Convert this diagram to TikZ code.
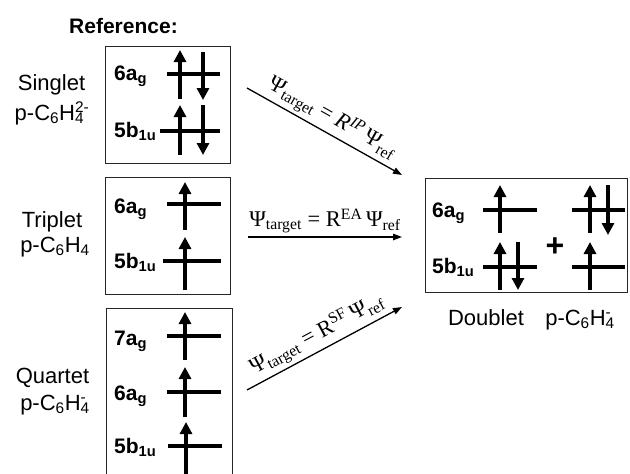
\documentclass[tikz,border=0pt]{standalone}
\usepackage{fontspec}
\setmainfont{Liberation Sans}
\newfontfamily\tms{Liberation Serif}
\usetikzlibrary{arrows.meta}
\newcommand\sbsp[2]{\setbox0\hbox{\textsubscript{#1}}\setbox2\hbox{\textsuperscript{#2}}\ifdim\wd0>\wd2 \rlap{\box2}\box0 \else\rlap{\box0}\box2 \fi}
\begin{document}
\begin{tikzpicture}[x=1pt,y=-1pt,
  box/.style={draw=black!85, line width=0.9pt, inner sep=0pt, anchor=north west},
  lvl/.style={line width=4pt},
  el/.style={line width=4.8pt, -{Triangle[length=12pt,width=12pt]}},
  conn/.style={line width=1.3pt, -{Triangle[length=9pt,width=6.5pt]}},
  lab/.style={font=\fontsize{22}{26}\selectfont, anchor=base, inner sep=0pt},
  orb/.style={font=\fontsize{21}{25}\selectfont\bfseries, anchor=base west, inner sep=0pt},
  eq/.style={font=\tms\fontsize{22.5}{26}\selectfont, inner sep=2pt}
]
\clip (0,0) rectangle (630,474);
\fill[white] (0,0) rectangle (630,474);

\node[lab, font=\fontsize{21}{25}\selectfont\bfseries] (title) at (123.5,33) {Reference:};

% boxes
\node[box, minimum width=125pt, minimum height=117pt] (b1) at (105,46) {};
\node[box, minimum width=125pt, minimum height=117pt] (b2) at (105,177) {};
\node[box, minimum width=126pt, minimum height=180pt] (b3) at (106,308) {};
\node[box, minimum width=202pt, minimum height=114pt] (b4) at (425,178) {};

% state labels
\node[lab] (s1) at (51.5,90) {Singlet};
\node[lab] (s1f) at (52,120) {p-C\textsubscript{6}H\sbsp{4}{2-}};
\node[lab] (s2) at (52,227) {Triplet};
\node[lab] (s2f) at (55,252) {p-C\textsubscript{6}H\textsubscript{4}};
\node[lab] (s3) at (52.5,383) {Quartet};
\node[lab] (s3f) at (55,410) {p-C\textsubscript{6}H\sbsp{4}{-}};
\node[lab] (s4) at (486,325) {Doublet};
\node[lab] (s4f) at (580,325) {p-C\textsubscript{6}H\sbsp{4}{-}};

% singlet box
\node[orb] (o11) at (114,80) {6a\textsubscript{g}};
\node[orb] (o12) at (114,137) {5b\textsubscript{1u}};
\draw[lvl] (167,74) -- (220,74);
\draw[el] (180,99) -- (180,50);
\draw[el] (203,52) -- (203,100);
\draw[lvl] (160,131) -- (220,131);
\draw[el] (180,155) -- (180,105);
\draw[el] (203,105) -- (203,155);

% triplet box
\node[orb] (o21) at (114,213) {6a\textsubscript{g}};
\node[orb] (o22) at (114,268) {5b\textsubscript{1u}};
\draw[lvl] (167,204) -- (221,204);
\draw[el] (185,230) -- (185,182);
\draw[lvl] (163,261) -- (221,261);
\draw[el] (185,290) -- (185,237);

% quartet box
\node[orb] (o31) at (114,345) {7a\textsubscript{g}};
\node[orb] (o32) at (114,400) {6a\textsubscript{g}};
\node[orb] (o33) at (114,453) {5b\textsubscript{1u}};
\draw[lvl] (167,336) -- (221,336);
\draw[el] (185,360) -- (185,312);
\draw[lvl] (167,392) -- (221,392);
\draw[el] (185,417) -- (185,367);
\draw[lvl] (168,446) -- (222,446);
\draw[el] (186,480) -- (186,422);

% doublet box
\node[orb] (o41) at (432,217) {6a\textsubscript{g}};
\node[orb] (o42) at (432,273) {5b\textsubscript{1u}};
\draw[lvl] (483,210) -- (537,210);
\draw[el] (500,233) -- (500,185);
\draw[lvl] (483,267) -- (537,267);
\draw[el] (500,290) -- (500,242);
\draw[el] (518,242) -- (518,290);
\draw[lvl] (572,210) -- (625,210);
\draw[el] (590,233) -- (590,185);
\draw[el] (608,185) -- (608,235);
\draw[lvl] (572,267) -- (625,267);
\draw[el] (590,290) -- (590,242);
\node[font=\fontsize{32}{34}\selectfont\bfseries, inner sep=0pt] (plus) at (555,247) {+};

% connectors
\coordinate (ipA) at (247,88);
\coordinate (ipB) at (402,175);
\coordinate (eaA) at (248,237);
\coordinate (eaB) at (402,237);
\coordinate (sfA) at (247,390);
\coordinate (sfB) at (402,307);
\draw[conn] (ipA) -- node[eq, midway, above=1pt, sloped] (ipl) {Ψ\textsubscript{target} = \textit{R}\textsuperscript{\textit{IP}}\,Ψ\textsubscript{ref}} (ipB);
\draw[conn] (eaA) -- node[eq, midway, above=1pt, sloped] (eal) {Ψ\textsubscript{target} = R\textsuperscript{EA}\,Ψ\textsubscript{ref}} (eaB);
\draw[conn] (sfA) -- node[eq, midway, above=1pt, sloped] (sfl) {Ψ\textsubscript{target} = R\textsuperscript{SF}\,Ψ\textsubscript{ref}} (sfB);
\end{tikzpicture}
\end{document}
